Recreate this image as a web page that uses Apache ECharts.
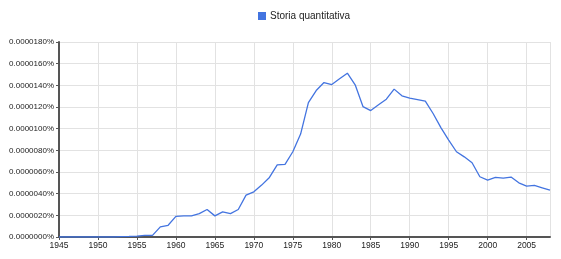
<!DOCTYPE html>
<html>
<head>
<meta charset="utf-8">
<script src="https://cdn.jsdelivr.net/npm/echarts@6/dist/echarts.min.js"></script>
<style>
html,body{margin:0;padding:0;background:#fff;}
#c{width:561px;height:259px;}
</style>
</head>
<body>
<div id="c"></div>
<script>
// Values in units of 0.0000001%
var seriesName = 'Storia quantitativa';
var years = [1945,1946,1947,1948,1949,1950,1951,1952,1953,1954,1955,1956,1957,1958,1959,1960,1961,1962,1963,1964,1965,1966,1967,1968,1969,1970,1971,1972,1973,1974,1975,1976,1977,1978,1979,1980,1981,1982,1983,1984,1985,1986,1987,1988,1989,1990,1991,1992,1993,1994,1995,1996,1997,1998,1999,2000,2001,2002,2003,2004,2005,2006,2007,2008];
var values = [0,0,0,0,0,0,0,0,0.3,0.5,0.8,1.5,1.5,9.3,10.8,19.0,19.5,19.5,21.6,25.4,19.5,23.2,21.6,25.4,38.6,41.7,47.9,55.0,66.6,67.0,78.7,95.0,124.0,135.2,142.6,140.7,146.0,151.2,140.5,120.4,116.7,122.0,127.2,136.5,130.3,128.1,126.9,125.4,114.0,101.0,89.5,78.7,74.0,68.5,55.6,52.5,55.0,54.3,55.3,50.0,47.0,47.6,45.4,43.2];
var yTicks = [0,20,40,60,80,100,120,140,160,180];
var xTicks = [1945,1950,1955,1960,1965,1970,1975,1980,1985,1990,1995,2000,2005];

var data = years.map(function(y,i){return [y, values[i]];});
var chart = echarts.init(document.getElementById('c'), null, {renderer:'canvas'});
chart.setOption({
  animation:false,
  backgroundColor:'#fff',
  grid:{left:59,right:11,top:42,bottom:22,containLabel:false},
  legend:{
    data:[{name:seriesName, icon:'rect'}],
    left:258, top:11, padding:0, itemWidth:8, itemHeight:8, itemGap:4,
    textStyle:{fontFamily:'Liberation Sans, Arial, sans-serif', fontSize:10, color:'#222', padding:[0,0,0,-1]}
  },
  xAxis:{
    type:'value', min:1945, max:2008, interval:5,
    axisLine:{show:true, lineStyle:{color:'#555', width:2}},
    axisTick:{show:true, length:3, lineStyle:{color:'#555'}},
    splitLine:{show:true, lineStyle:{color:'#e2e2e2', width:1}},
    axisLabel:{fontFamily:'Liberation Sans, Arial, sans-serif', fontSize:8.5, color:'#222', margin:4,
      showMaxLabel:false,
      formatter:function(v){return xTicks.indexOf(v)>=0 ? String(v) : '';}}
  },
  yAxis:{
    type:'value', min:0, max:180, interval:20,
    axisLine:{show:true, lineStyle:{color:'#555', width:2}},
    axisTick:{show:true, length:3, lineStyle:{color:'#555'}},
    splitLine:{show:true, lineStyle:{color:'#e2e2e2', width:1}},
    axisLabel:{fontFamily:'Liberation Sans, Arial, sans-serif', fontSize:8, color:'#222', margin:5,
      formatter:function(v){return yTicks.indexOf(v)>=0 ? (v*1e-7).toFixed(7)+'%' : '';}}
  },
  series:[{
    name:seriesName, type:'line', data:data, showSymbol:false, symbol:'none',
    itemStyle:{color:'#4374e0'},
    lineStyle:{color:'#4374e0', width:1.3}
  }]
});
</script>
</body>
</html>
